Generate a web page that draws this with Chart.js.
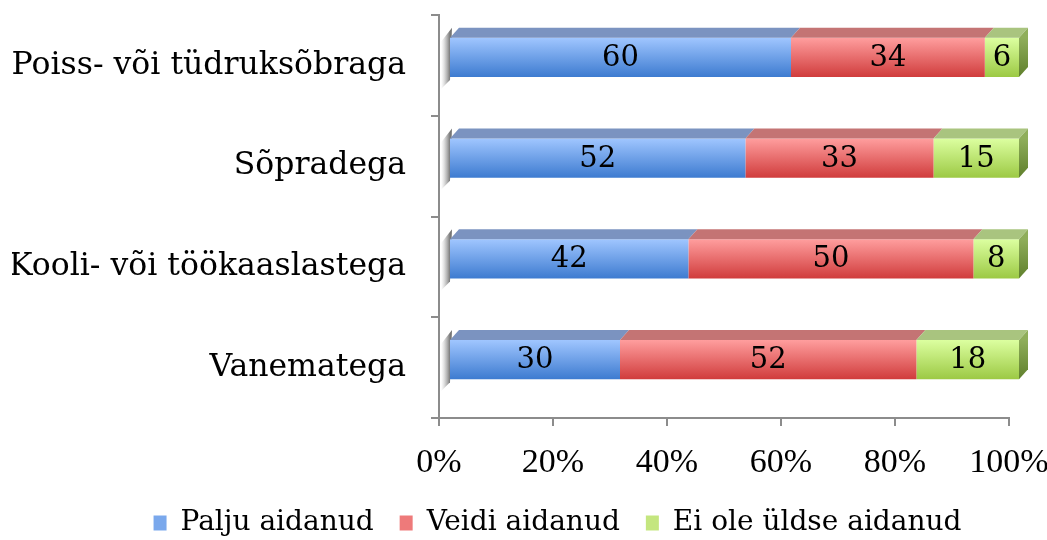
<!DOCTYPE html>
<html lang="et">
<head>
<meta charset="UTF-8">
<title>Aidanud</title>
<script src="https://cdn.jsdelivr.net/npm/chart.js"></script>
<style>
  html, body { margin: 0; padding: 0; background: #fff; }
  #wrap { width: 1047px; height: 540px; }
</style>
</head>
<body>
<div id="wrap"><canvas id="chart"></canvas></div>
<script>
// Andmed (ülevalt alla)
const categories = ['Poiss- või tüdruksõbraga', 'Sõpradega', 'Kooli- või töökaaslastega', 'Vanematega'];
const seriesNames = ['Palju aidanud', 'Veidi aidanud', 'Ei ole üldse aidanud'];
const paljuAidanud = [60, 52, 42, 30];
const veidiAidanud = [34, 33, 50, 52];
const eiOleAidanud = [6, 15, 8, 18];
const xTicks = [0, 20, 40, 60, 80, 100];

// värvid: esikülje gradient (üles/alla), pealmine tahk
const palette = [
  { top: '#a0c6ff', bottom: '#3d7bd0', face: '#7b93c0', legend: '#7aa8ec' },
  { top: '#ff9e9e', bottom: '#d03c3c', face: '#c47474', legend: '#ee7a7a' },
  { top: '#dcffa0', bottom: '#9cc944', face: '#a9c47f', legend: '#c4e67f' }
];

const SHIFT_X = 10, SHIFT_Y = -8;   // esikülje nihe teljest
const DEPTH_X = 9, DEPTH_Y = -10;   // 3D sügavus
const BAR_PCT = 0.39;
const SERIF = '"DejaVu Serif", serif';

function frontFill(i) {
  return function (ctx) {
    const chart = ctx.chart;
    const ys = chart.scales.y;
    if (ctx.type !== 'data' || !ys) return palette[i].legend;
    const yc = ys.getPixelForValue(ctx.dataIndex);
    const h = (ys.height / categories.length) * BAR_PCT;
    if (!isFinite(yc) || !isFinite(h) || h <= 0) return palette[i].legend;
    const g = chart.ctx.createLinearGradient(0, yc - h / 2, 0, yc + h / 2);
    g.addColorStop(0, palette[i].top);
    g.addColorStop(1, palette[i].bottom);
    return g;
  };
}

// 3D tahud, vari ja väärtused
const bar3d = {
  id: 'bar3d',
  afterLayout(chart) {
    // legend veidi paremale nagu originaalis
    chart.legend.left += 47;
    chart.legend.right += 47;
  },
  beforeDatasetsDraw(chart) {
    const c = chart.ctx;
    c.save();
    c.translate(SHIFT_X, SHIFT_Y);
    // vari vasakul
    chart.getDatasetMeta(0).data.forEach(el => {
      const top = el.y - el.height / 2, bottom = el.y + el.height / 2;
      const x0 = Math.min(el.x, el.base);
      const g = c.createLinearGradient(x0 - 9, 0, x0, 0);
      g.addColorStop(0, 'rgba(170,170,170,0)');
      g.addColorStop(1, 'rgba(95,95,95,0.85)');
      c.fillStyle = g;
      c.beginPath();
      c.moveTo(x0 + 2, top + DEPTH_Y);
      c.lineTo(x0 - 9, top + 4);
      c.lineTo(x0 - 9, bottom + 12);
      c.lineTo(x0, bottom + 3);
      c.closePath();
      c.fill();
    });
  },
  afterDatasetsDraw(chart) {
    const c = chart.ctx;
    const n = chart.data.datasets.length;
    chart.data.datasets.forEach((ds, i) => {
      chart.getDatasetMeta(i).data.forEach(el => {
        const top = el.y - el.height / 2, bottom = el.y + el.height / 2;
        const x0 = Math.min(el.x, el.base), x1 = Math.max(el.x, el.base);
        c.fillStyle = palette[i].face;
        c.beginPath();
        c.moveTo(x0, top);
        c.lineTo(x0 + DEPTH_X, top + DEPTH_Y);
        c.lineTo(x1 + DEPTH_X, top + DEPTH_Y);
        c.lineTo(x1, top);
        c.closePath();
        c.fill();
        if (i === n - 1) {
          const g = c.createLinearGradient(0, top, 0, bottom);
          g.addColorStop(0, '#8fae5a');
          g.addColorStop(1, '#5f7f2c');
          c.fillStyle = g;
          c.beginPath();
          c.moveTo(x1, top);
          c.lineTo(x1 + DEPTH_X, top + DEPTH_Y);
          c.lineTo(x1 + DEPTH_X, bottom + DEPTH_Y);
          c.lineTo(x1, bottom);
          c.closePath();
          c.fill();
        }
      });
    });
    // väärtused
    c.fillStyle = '#000';
    c.font = '29px ' + SERIF;
    c.textAlign = 'center';
    c.textBaseline = 'middle';
    chart.data.datasets.forEach((ds, i) => {
      chart.getDatasetMeta(i).data.forEach((el, j) => {
        c.fillText(String(ds.data[j]), (el.x + el.base) / 2, el.y + 1);
      });
    });
    c.restore();
  }
};

const serieData = [paljuAidanud, veidiAidanud, eiOleAidanud];

new Chart(document.getElementById('chart'), {
  type: 'bar',
  data: {
    labels: categories,
    datasets: serieData.map((d, i) => ({
      label: seriesNames[i],
      data: d,
      backgroundColor: frontFill(i),
      borderWidth: 0,
      categoryPercentage: 1,
      barPercentage: BAR_PCT
    }))
  },
  options: {
    indexAxis: 'y',
    responsive: true,
    maintainAspectRatio: false,
    animation: false,
    layout: { padding: { top: 15, right: 38, left: 12, bottom: -7 } },
    scales: {
      x: {
        stacked: true,
        min: 0,
        max: 100,
        afterBuildTicks(axis) { axis.ticks = xTicks.map(v => ({ value: v })); },
        afterFit(axis) { axis.paddingRight = 0; axis.paddingLeft = 0; axis.height = 65; },
        ticks: {
          callback: v => v + '%',
          color: '#000',
          padding: 17,
          maxRotation: 0,
          font: { family: '"Liberation Serif", serif', size: 34 }
        },
        grid: { drawOnChartArea: false, tickLength: 8, color: '#8c8c8c', lineWidth: 2 },
        border: { color: '#8c8c8c', width: 2 }
      },
      y: {
        stacked: true,
        afterFit(axis) { axis.paddingTop = 0; axis.paddingBottom = 0; axis.width = 427; },
        ticks: {
          color: '#000',
          padding: 25,
          font: { family: SERIF, size: 31.5 }
        },
        grid: { drawOnChartArea: false, offset: true, tickLength: 8, color: '#8c8c8c', lineWidth: 2 },
        border: { color: '#8c8c8c', width: 2 }
      }
    },
    plugins: {
      legend: {
        position: 'bottom',
        labels: {
          color: '#000',
          boxWidth: 13,
          boxHeight: 15,
          padding: 26,
          font: { family: SERIF, size: 28 },
          generateLabels(chart) {
            const items = Chart.defaults.plugins.legend.labels.generateLabels(chart);
            items.forEach((it, i) => {
              it.fillStyle = palette[i].legend;
              it.strokeStyle = palette[i].legend;
              it.lineWidth = 0;
            });
            return items;
          }
        }
      },
      tooltip: { enabled: false }
    }
  },
  plugins: [bar3d]
});
</script>
</body>
</html>
